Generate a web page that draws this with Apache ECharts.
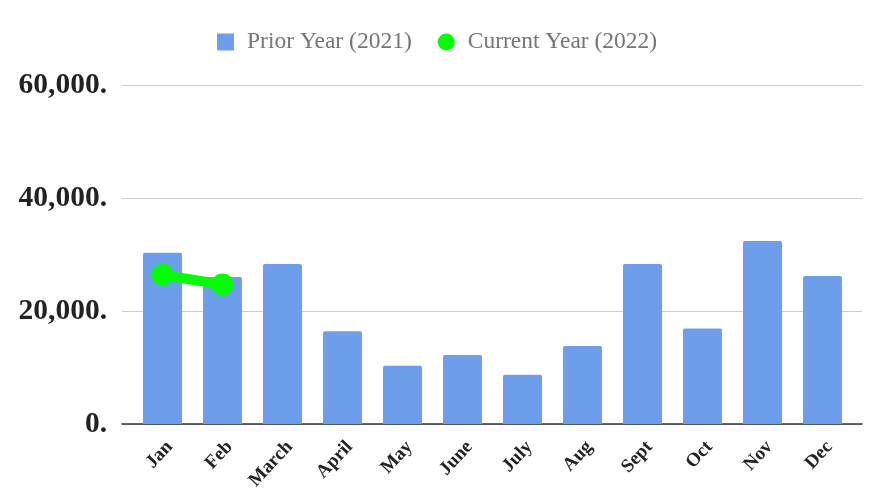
<!DOCTYPE html>
<html>
<head>
<meta charset="utf-8">
<script src="https://cdn.jsdelivr.net/npm/echarts@6/dist/echarts.min.js"></script>
<style>html,body{margin:0;padding:0;background:#fff}#c{width:890px;height:501px}</style>
</head>
<body>
<div id="c"></div>
<script>
const categories = ['Jan','Feb','March','April','May','June','July','Aug','Sept','Oct','Nov','Dec'];
const priorYear = [30300, 26000, 28300, 16400, 10300, 12200, 8700, 13800, 28300, 16900, 32400, 26200];
const currentYear = [26400, 24700, null, null, null, null, null, null, null, null, null, null];
const yTicks = [0, 20000, 40000, 60000];

const chart = echarts.init(document.getElementById('c'));
const fmt = v => v.toLocaleString('en-US') + '.';
chart.setOption({
  animation: false,
  legend: {
    top: 30,
    left: 217,
    padding: 0,
    itemGap: 26,
    itemWidth: 17,
    itemHeight: 17,
    textStyle: { fontFamily: 'Liberation Serif', fontSize: 23.5, color: '#757575', padding: [0, 0, 0, 8] },
    data: [
      { name: 'Prior Year (2021)', icon: 'rect', itemStyle: { color: '#6d9eeb' } },
      { name: 'Current Year (2022)', icon: 'circle', itemStyle: { color: '#00ff00' } }
    ]
  },
  grid: [
    { left: 122, right: 28, top: 85, bottom: 77 },
    { left: 132.5, width: 720, top: 85, bottom: 77 },
    { left: 139.5, width: 720, top: 85, bottom: 77 }
  ],
  xAxis: [
    { gridIndex: 0, type: 'category', data: categories, axisLine: { show: true, lineStyle: { color: '#333', width: 1.5 } }, axisTick: { show: false }, axisLabel: { show: false } },
    { gridIndex: 1, type: 'category', data: categories, axisLine: { show: false }, axisTick: { show: false }, axisLabel: { show: false } },
    {
      gridIndex: 2, type: 'category', data: categories,
      axisLine: { show: false }, axisTick: { show: false },
      axisLabel: { rotate: 47, interval: 0, margin: 20, fontFamily: 'Liberation Serif', fontWeight: 'bold', fontSize: 19, color: '#222' }
    }
  ],
  yAxis: [
    {
      gridIndex: 0, type: 'value', min: 0, max: 60000, interval: 20000,
      axisLine: { show: false }, axisTick: { show: false },
      splitLine: { lineStyle: { color: '#cccccc', width: 1 } },
      axisLabel: { formatter: fmt, margin: 15, fontFamily: 'Liberation Serif', fontWeight: 'bold', fontSize: 29.5, color: '#222' }
    },
    { gridIndex: 1, type: 'value', min: 0, max: 60000, interval: 20000, show: false, splitLine: { show: false } },
    { gridIndex: 2, type: 'value', min: 0, max: 60000, interval: 20000, show: false, splitLine: { show: false } }
  ],
  series: [
    {
      name: 'Prior Year (2021)', type: 'bar', xAxisIndex: 1, yAxisIndex: 1,
      data: priorYear, barWidth: 39,
      itemStyle: { color: '#6d9eeb', borderRadius: [2, 2, 0, 0] }
    },
    {
      name: 'Current Year (2022)', type: 'line', xAxisIndex: 1, yAxisIndex: 1,
      data: currentYear, symbol: 'circle', symbolSize: 22,
      lineStyle: { color: '#00ff00', width: 10 },
      itemStyle: { color: '#00ff00' }
    }
  ]
});
</script>
</body>
</html>
